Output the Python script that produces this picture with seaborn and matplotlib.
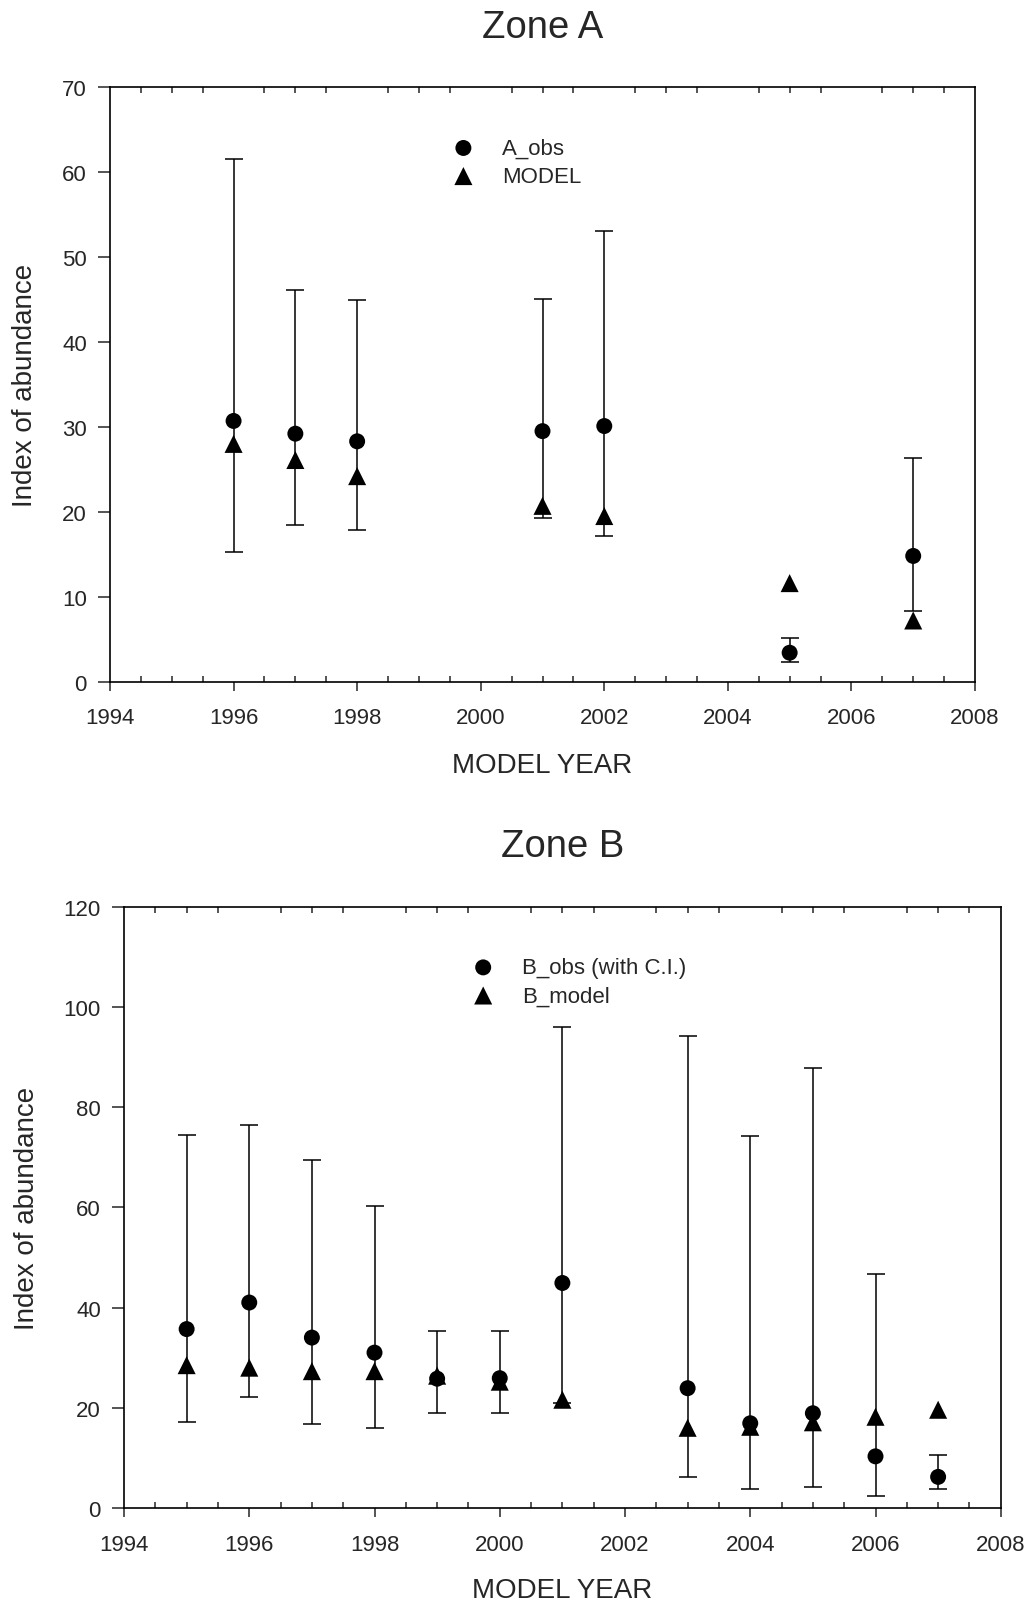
#!/usr/bin/env python3

import numpy as np
import pandas as pd
import matplotlib
matplotlib.use("Agg")
import matplotlib.pyplot as plt
import seaborn as sns
from matplotlib.ticker import MultipleLocator


# Zone A: observed index with confidence interval, and model fit
years_a = [1996, 1997, 1998, 2001, 2002, 2005, 2007]
obs_a = [30.7, 29.2, 28.3, 29.5, 30.1, 3.4, 14.8]
low_a = [15.3, 18.5, 17.8, 19.3, 17.1, 2.3, 8.3]
high_a = [61.5, 46.1, 45.0, 45.1, 53.1, 5.1, 26.3]
model_a = [28.0, 26.1, 24.2, 20.7, 19.5, 11.6, 7.2]

# Zone B
years_b = [1995, 1996, 1997, 1998, 1999, 2000, 2001, 2003, 2004, 2005, 2006, 2007]
obs_b = [35.7, 41.0, 34.0, 31.0, 25.8, 25.9, 44.9, 23.9, 16.9, 18.9, 10.3, 6.2]
low_b = [17.2, 22.2, 16.8, 16.0, 19.0, 19.0, 20.9, 6.1, 3.8, 4.1, 2.3, 3.7]
high_b = [74.5, 76.4, 69.5, 60.2, 35.4, 35.4, 96.0, 94.1, 74.3, 87.9, 46.7, 10.6]
model_b = [28.5, 28.0, 27.3, 27.3, 26.4, 25.2, 21.6, 16.0, 16.2, 17.1, 18.2, 19.6]

FS = 16


def zone_panel(fig, rect, years, obs, low, high, model, labels, title, ymax, ystep,
               leg_anchor, ylab_x, xlab_y):
    ax = fig.add_axes(rect)
    df = pd.DataFrame({"year": years, "obs": obs, "low": low, "high": high, "model": model})

    ax.errorbar(df["year"], df["obs"],
                yerr=[df["obs"] - df["low"], df["high"] - df["obs"]],
                fmt="none", ecolor="black", elinewidth=1.1, capsize=6.8, capthick=1.1,
                zorder=2)
    sns.scatterplot(data=df, x="year", y="model", marker="^", s=169, color="black",
                    edgecolor="none", label=labels[1], ax=ax, zorder=3)
    sns.scatterplot(data=df, x="year", y="obs", marker="o", s=132, color="black",
                    edgecolor="none", label=labels[0], ax=ax, zorder=4)

    ax.set_xlim(1994, 2008)
    ax.set_ylim(0, ymax)
    ax.set_xticks(np.arange(1994, 2009, 2))
    ax.set_yticks(np.arange(0, ymax + 1, ystep))
    ax.xaxis.set_minor_locator(MultipleLocator(0.5))

    ax.tick_params(axis="x", which="major", direction="out", length=6.5, width=1.1,
                   top=False, labelsize=FS, pad=12)
    ax.tick_params(axis="x", which="minor", direction="in", length=4.3, width=1.1,
                   top=True, bottom=True)
    ax.tick_params(axis="y", which="major", direction="out", length=8.6, width=1.1,
                   right=False, labelsize=FS, pad=8)

    ax.set_xlabel("MODEL YEAR", fontsize=20)
    ax.set_ylabel("Index of abundance", fontsize=20)
    ax.xaxis.set_label_coords(0.5, xlab_y)
    ax.xaxis.label.set_va("center")
    ax.yaxis.set_label_coords(ylab_x, 0.5)
    ax.yaxis.label.set_va("center")
    ax.set_title(title, fontsize=27.5, y=1.071, va="baseline")

    handles, labs = ax.get_legend_handles_labels()
    order = [labs.index(labels[0]), labs.index(labels[1])]
    ax.legend([handles[i] for i in order], [labs[i] for i in order],
              loc="upper left", bbox_to_anchor=leg_anchor, frameon=False,
              fontsize=FS, borderpad=0, borderaxespad=0, handlelength=1.0,
              handletextpad=1.25, labelspacing=0.32)

    for sp in ax.spines.values():
        sp.set_linewidth(1.2)
        sp.set_color("black")
    return ax


def main():
    sns.set_style("ticks")
    plt.rcParams["font.family"] = ["Liberation Sans", "DejaVu Sans"]
    plt.rcParams["axes.linewidth"] = 1.2

    fig = plt.figure(figsize=(10.30, 16.08), dpi=100)

    zone_panel(fig, [0.1068, 0.5755, 0.8398, 0.3696], years_a, obs_a, low_a, high_a,
               model_a, ("A_obs", "MODEL"), "Zone A", 70, 10, (0.3957, 0.915),
               -0.098, -0.141)
    zone_panel(fig, [0.1204, 0.0616, 0.8512, 0.3739], years_b, obs_b, low_b, high_b,
               model_b, ("B_obs (with C.I.)", "B_model"), "Zone B", 120, 20,
               (0.397, 0.916), -0.111, -0.137)

    fig.savefig("out.png", dpi=100)


if __name__ == "__main__":
    main()
